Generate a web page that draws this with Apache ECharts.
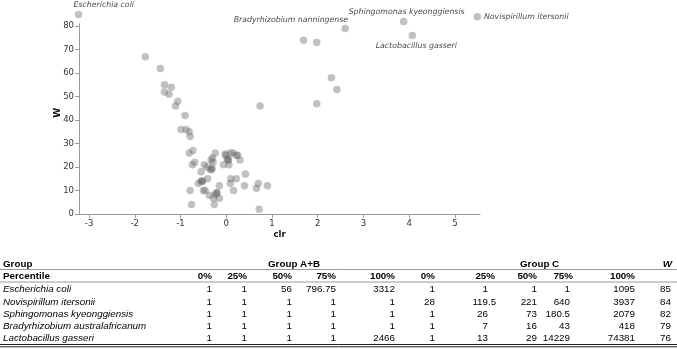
<!DOCTYPE html>
<html>
<head>
<meta charset="utf-8">
<script src="https://cdn.jsdelivr.net/npm/echarts@6/dist/echarts.min.js"></script>
<style>
  html, body { margin: 0; padding: 0; background: #fff; }
  #chart { width: 677px; height: 349px; }
</style>
</head>
<body>
<div id="chart"></div>
<script>
// scatter points: clr vs W
const clrValues = [
  -3.23, 5.49, 3.88, 2.60, 4.07, 1.69, 1.98, -1.77, -1.44, 2.30,
  -1.35, -1.20, 2.42, -1.35, -1.25, -1.06, 1.98, -1.11, 0.74, -0.90,
  -0.99, -0.88, -0.81, -0.79, -0.81, -0.73, -0.69, -0.74, -0.55, -0.48,
  -0.42, -0.33, -0.29, -0.35, -0.31, -0.30, -0.24, -0.02, -0.01, 0.09,
  0.15, 0.22, 0.25, 0.05, 0.02, -0.06, 0.06, 0.30, 0.42, 0.10,
  0.22, 0.09, 0.40, 0.16, 0.70, 0.66, 0.90, 0.72, -0.15, -0.20,
  -0.24, -0.15, -0.28, -0.26, -0.37, -0.50, -0.46, -0.41, -0.61, -0.53,
  -0.55, -0.79, -0.76, -0.32, 0.04, -0.52, -0.21
];
const wScores = [
  85, 84, 82, 79, 76, 74, 73, 67, 62, 58,
  55, 54, 53, 52, 51, 48, 47, 46, 46, 42,
  36, 36, 35, 33, 26, 27, 22, 21, 18, 21,
  20, 23, 22, 19, 19.5, 24, 26, 25.5, 25, 26,
  26, 25, 25, 23, 23.5, 21, 21, 23, 17, 15,
  15, 13, 12, 10, 13, 11, 12, 2, 12, 9,
  8.3, 6.7, 6.7, 4, 8, 10, 10, 15, 13, 14,
  14, 10, 4, 19, 23, 14, 9
];
// first five points carry a taxon label
const pointNames = [
  "Escherichia coli", "Novispirillum itersonii", "Sphingomonas kyeonggiensis",
  "Bradyrhizobium nanningense", "Lactobacillus gasseri"
];
const xTicks = [-3, -2, -1, 0, 1, 2, 3, 4, 5];
const yTicks = [0, 10, 20, 30, 40, 50, 60, 70, 80];

// table
const percentiles = ["0%", "25%", "50%", "75%", "100%"];
const taxa = [
  "Escherichia coli", "Novispirillum itersonii", "Sphingomonas kyeonggiensis",
  "Bradyrhizobium australafricanum", "Lactobacillus gasseri"
];
const groupAB = [
  [1, 1, 56, 796.75, 3312],
  [1, 1, 1, 1, 1],
  [1, 1, 1, 1, 1],
  [1, 1, 1, 1, 1],
  [1, 1, 1, 1, 2466]
];
const groupC = [
  [1, 1, 1, 1, 1095],
  [28, 119.5, 221, 640, 3937],
  [1, 26, 73, 180.5, 2079],
  [1, 7, 16, 43, 418],
  [1, 13, 29, 14229, 74381]
];
const wTable = [85, 84, 82, 79, 76];

const labelStyle = {
  "Escherichia coli": { position: "top", align: "left", offset: [-5, 0], distance: 2 },
  "Novispirillum itersonii": { position: "right", distance: 3 },
  "Sphingomonas kyeonggiensis": { position: "top", offset: [3, 0], distance: 2 },
  "Bradyrhizobium nanningense": { position: "top", align: "right", offset: [3, 0], distance: 1 },
  "Lactobacillus gasseri": { position: "bottom", offset: [4, 0], distance: 3 }
};

const points = clrValues.map((c, i) => {
  const item = { value: [c, wScores[i]] };
  const nm = pointNames[i];
  if (nm) {
    item.name = nm;
    item.label = Object.assign({
      show: true,
      formatter: nm,
      fontFamily: "DejaVu Sans",
      fontStyle: "italic",
      fontSize: 7.8,
      color: "#111"
    }, labelStyle[nm]);
  }
  return item;
});

// table drawing
const tf = "Liberation Sans";
const fs = 9.8;
// header right edges, and value anchors (group C 25% lines up on the decimal point)
const colRight = [212, 247, 292, 336, 395, 435, 495, 537, 573, 635];
const valAnchor = [212, 247, 292, 336, 395, 435, 488, 537, 570, 635];
const decimalCol = [false, false, false, false, false, false, true, false, false, false];
const rowY = [289.5, 301.8, 314, 326.3, 338.6];
const measureCtx = document.createElement("canvas").getContext("2d");
measureCtx.font = fs + "px " + tf;
const g = [];
function txt(x, y, s, opt) {
  g.push({
    type: "text", x: x, y: y,
    style: Object.assign({
      text: s, fontFamily: tf, fontSize: fs, fill: "#000",
      textVerticalAlign: "middle", textAlign: "right"
    }, opt || {})
  });
}
function hline(y, w, c) {
  g.push({ type: "line", shape: { x1: 0, y1: y, x2: 677, y2: y }, style: { stroke: c, lineWidth: w } });
}
txt(3, 264.5, "Group", { textAlign: "left", fontWeight: "bold" });
txt(268, 264.5, "Group A+B", { textAlign: "left", fontWeight: "bold" });
txt(520, 264.5, "Group C", { textAlign: "left", fontWeight: "bold" });
txt(672, 264.5, "W", { fontWeight: "bold", fontStyle: "italic" });
hline(269.5, 1, "#999");
txt(3, 276, "Percentile", { textAlign: "left", fontWeight: "bold" });
percentiles.concat(percentiles).forEach((p, j) => txt(colRight[j], 276, p, { fontWeight: "bold" }));
hline(282, 1, "#999");
taxa.forEach((t, i) => {
  txt(3, rowY[i], t, { textAlign: "left", fontStyle: "italic" });
  groupAB[i].concat(groupC[i]).forEach((v, j) => {
    const s = String(v);
    let x = valAnchor[j];
    if (decimalCol[j] && s.indexOf(".") >= 0) {
      x += measureCtx.measureText(s.slice(s.indexOf("."))).width;
    }
    txt(x, rowY[i], s);
  });
  txt(671, rowY[i], String(wTable[i]));
});
hline(344.5, 1, "#222");
hline(346.8, 1, "#222");

const chart = echarts.init(document.getElementById("chart"));
chart.setOption({
  animation: false,
  grid: { left: 79, right: 197, top: 23.8, bottom: 135 },
  xAxis: {
    type: "value",
    min: -3.22,
    max: 5.55,
    name: "clr",
    nameLocation: "middle",
    nameGap: 16,
    nameMoveOverlap: false,
    nameTextStyle: { fontFamily: "DejaVu Sans", fontWeight: "bold", fontSize: 8.5, color: "#111" },
    splitLine: { show: false },
    axisLine: { onZero: false, lineStyle: { color: "#999" } },
    axisTick: { customValues: xTicks, length: 4, lineStyle: { color: "#999" } },
    axisLabel: { customValues: xTicks, fontFamily: "DejaVu Sans", fontSize: 8.5, color: "#333", margin: 5 }
  },
  yAxis: {
    type: "value",
    min: 0,
    max: 81,
    name: "W",
    nameLocation: "middle",
    nameGap: 17,
    nameMoveOverlap: false,
    nameTextStyle: { fontFamily: "DejaVu Sans", fontWeight: "bold", fontSize: 9, color: "#111", padding: [0, 0, 0, 12] },
    splitLine: { show: false },
    axisLine: { show: true, onZero: false, lineStyle: { color: "#999" } },
    axisTick: { show: true, customValues: yTicks, length: 4, lineStyle: { color: "#999" } },
    axisLabel: { customValues: yTicks, fontFamily: "DejaVu Sans", fontSize: 8.5, color: "#333", margin: 5 }
  },
  series: [{
    type: "scatter",
    clip: false,
    symbolSize: 7.5,
    itemStyle: { color: "rgba(100,100,100,0.5)" },
    data: points
  }],
  graphic: g
});
</script>
</body>
</html>
